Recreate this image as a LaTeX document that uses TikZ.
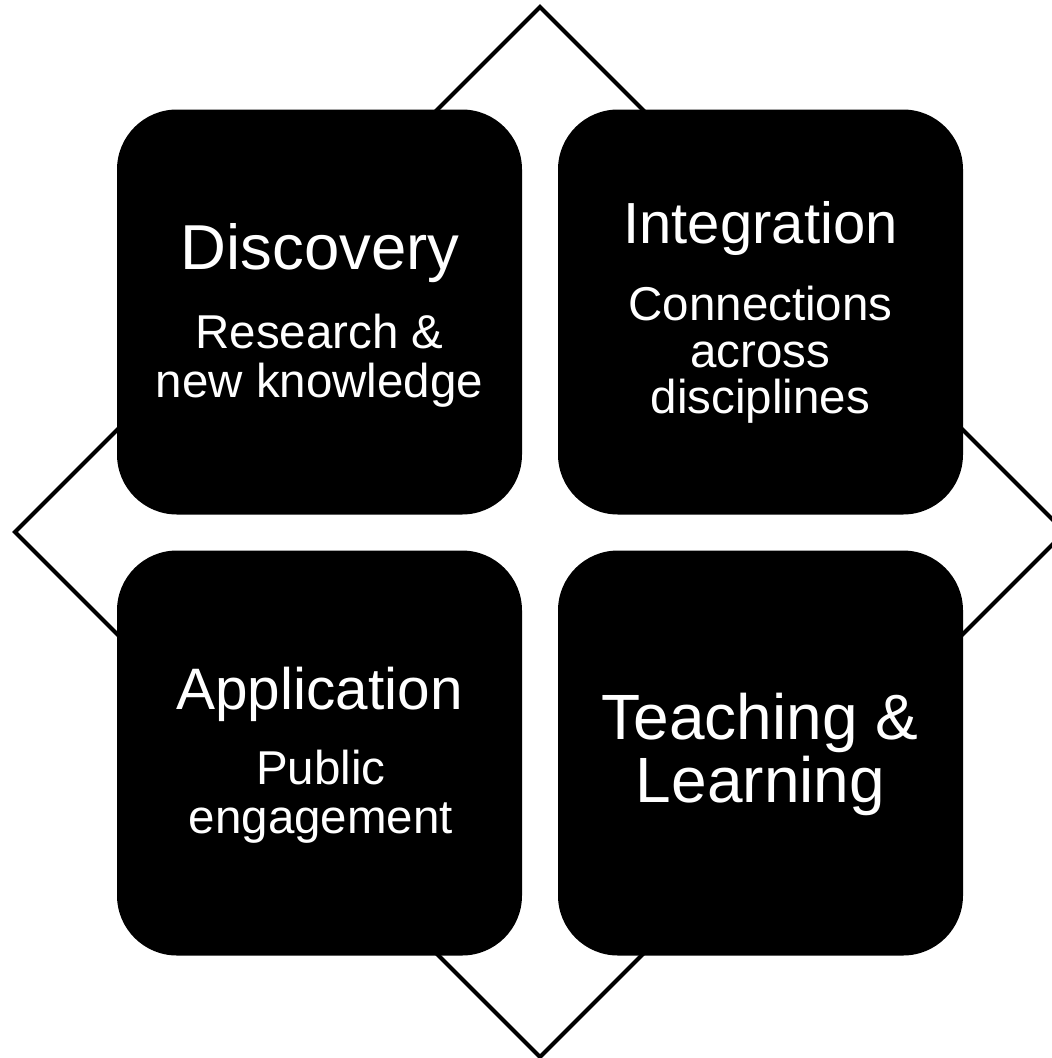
\documentclass[tikz,border=0pt]{standalone}
\usepackage{fontspec}
\setmainfont{Liberation Sans}
\begin{document}
\begin{tikzpicture}[x=1pt,y=-1pt,
  tile/.style={fill=black,draw=none,rounded corners=60pt,minimum size=405pt,inner sep=0pt},
  ttl/.style={text=white,inner sep=0pt,anchor=base,font=\fontsize{#1}{#1}\selectfont},
  sub/.style={text=white,inner sep=0pt,anchor=base,font=\fontsize{47.5}{47.5}\selectfont},
  frame/.style={draw=black,line width=4pt,line join=miter}]
\useasboundingbox (0,0) rectangle (1052,1058);
\clip (0,0) rectangle (1052,1058);
% diamond frame
\coordinate (dt) at (540,7);
\coordinate (dl) at (15,532);
\coordinate (db) at (540,1057);
\coordinate (dr) at (1065,532);
\draw[frame] (dt) -- (dr) -- (db) -- (dl) -- cycle;
% tiles
\node[tile] (tl) at (319.5,312) {};
\node[tile] (tr) at (760.5,312) {};
\node[tile] (bl) at (319.5,753) {};
\node[tile] (br) at (760.5,753) {};
% texts
\node[ttl=63.5] (t1) at (320,269) {Discovery};
\node[sub] (s1a) at (319.5,348) {Research \&};
\node[sub] (s1b) at (319.5,397) {new knowledge};
\node[ttl=58] (t2) at (760.5,243) {Integration};
\node[sub] (s2a) at (760.5,320) {Connections};
\node[sub] (s2b) at (760.5,367) {across};
\node[sub] (s2c) at (760.5,413) {disciplines};
\node[ttl=58.5] (t3) at (319.5,709) {Application};
\node[sub] (s3a) at (321,784) {Public};
\node[sub] (s3b) at (321,833) {engagement};
\node[ttl=64] (t4a) at (760,739) {Teaching \&};
\node[ttl=64] (t4b) at (760.5,802) {Learning};
\end{tikzpicture}
\end{document}
